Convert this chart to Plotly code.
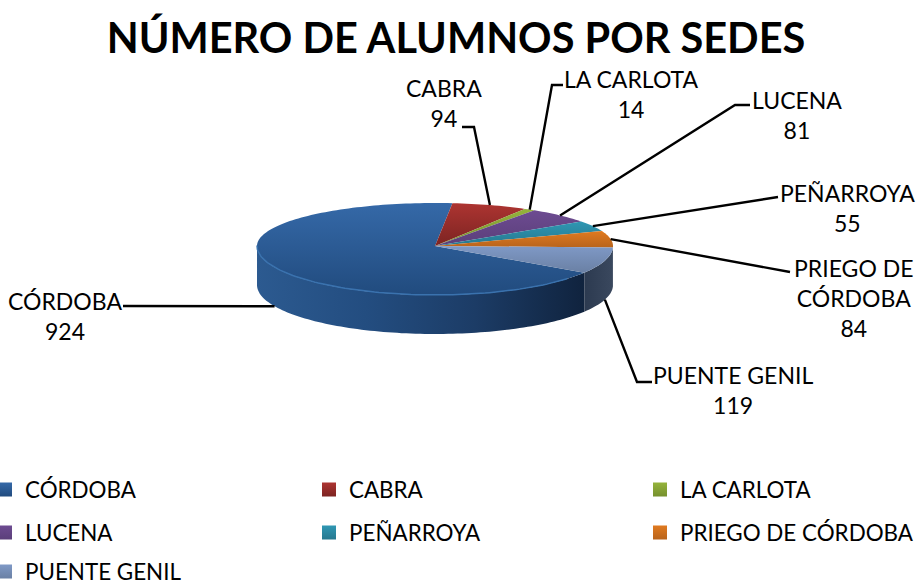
import math
import plotly.graph_objects as go

# ---- data ----
sedes = ["CÓRDOBA", "CABRA", "LA CARLOTA", "LUCENA", "PEÑARROYA", "PRIEGO DE CÓRDOBA", "PUENTE GENIL"]
alumnos = [924, 94, 14, 81, 55, 84, 119]
label_text = ["CÓRDOBA", "CABRA", "LA CARLOTA", "LUCENA", "PEÑARROYA", "PRIEGO DE<br>CÓRDOBA", "PUENTE GENIL"]
titulo = "NÚMERO DE ALUMNOS POR SEDES"

# ---- styles / layout (pixel frame of the page) ----
W, H = 916, 585
CX, CY, RX, RY_TOP, RY_BOT, DEPTH = 435, 246, 178, 43, 49, 39
START = -33.0
FONT = "Lato"
top_grad = [("#3569a8", "#214b7e"), ("#ad3431", "#7c2422"), ("#95b33c", "#76902e"),
            ("#6d4b91", "#5b3f7a"), ("#2f97b3", "#26788f"), ("#e07a20", "#b8641c"),
            ("#7f99c6", "#6a80a4")]
side_grad = {0: ["#2c5a90", "#234d80", "#1c3c66", "#10233e"], 6: ["#2c3a50", "#3a485e"]}
legend_cols = [0, 309, 640]
legend_indent = [-15, 0, 0]
legend_rows = [490, 533, 572]
label_pos = [(65, 316), (444, 103), (631, 94), (797, 115), (847, 208), (853, 298), (733, 390)]
leader_start = [(123, 306), (462, 127), (563, 85), (750, 105), (778, 197), (790, 272), (652, 382)]
leader_elbow = [None, (474, 127), (552, 85), (735, 105), None, None, (637, 382)]


def ell(t):
    s = math.sin(math.radians(t))
    ry = RY_TOP if s > 0 else RY_BOT
    return CX + RX * math.cos(math.radians(t)), CY - ry * s


def arc(a, b):
    n = max(2, int(abs(b - a) / 1.5) + 1)
    return [a + (b - a) * i / (n - 1) for i in range(n)]


total = sum(alumnos)
spans = []
a = START
for v in alumnos:
    b = a - 360.0 * v / total
    spans.append((a, b))
    a = b

fig = go.Figure()

# visible sides: only the part of each slice below the horizontal axis
for i, col in side_grad.items():
    a, b = spans[i]
    ts = [t for t in arc(a, b) if math.sin(math.radians(t)) <= 0.0]
    pts = [ell(t) for t in ts]
    xs = [p[0] for p in pts] + [p[0] for p in reversed(pts)] + [pts[0][0]]
    ys = [p[1] for p in pts] + [p[1] + DEPTH for p in reversed(pts)] + [pts[0][1]]
    n = len(col) - 1
    fig.add_trace(go.Scatter(
        x=xs, y=ys, mode="none", fill="toself", showlegend=False, hoverinfo="skip",
        fillgradient=dict(type="horizontal", colorscale=[[j / n, c] for j, c in enumerate(col)])))

# top face
for i, (a, b) in enumerate(spans):
    pts = [ell(t) for t in arc(a, b)]
    xs = [CX] + [p[0] for p in pts] + [CX]
    ys = [CY] + [p[1] for p in pts] + [CY]
    c1, c2 = top_grad[i]
    fig.add_trace(go.Scatter(
        x=xs, y=ys, mode="none", fill="toself", showlegend=False,
        name=sedes[i], text=str(alumnos[i]), hoverinfo="name+text",
        fillgradient=dict(type="vertical", colorscale=[[0, c2], [1, c1]])))

# bevel along the front rim of the largest slice
a, b = spans[0]
pts = [ell(t) for t in arc(a, b) if math.sin(math.radians(t)) <= 0.02 and math.cos(math.radians(t)) < 0.75]
fig.add_trace(go.Scatter(x=[p[0] for p in pts], y=[p[1] for p in pts], mode="lines",
                         line=dict(color="#3a72ae", width=1.5), showlegend=False, hoverinfo="skip"))

# leader lines, ending on the middle of each slice
annots = []
for i, (a, b) in enumerate(spans):
    ex, ey = ell((a + b) / 2)
    if i in (0, 6):
        ey += DEPTH
    xs, ys = [leader_start[i][0]], [leader_start[i][1]]
    if leader_elbow[i]:
        xs.append(leader_elbow[i][0]); ys.append(leader_elbow[i][1])
    xs.append(ex); ys.append(ey)
    fig.add_trace(go.Scatter(x=xs, y=ys, mode="lines", line=dict(color="black", width=2.4),
                             showlegend=False, hoverinfo="skip"))
    annots.append(dict(x=label_pos[i][0], y=label_pos[i][1], xref="x", yref="y", showarrow=False,
                       xanchor="center", yanchor="middle",
                       text=f"{label_text[i]}<br>{alumnos[i]}", align="center",
                       font=dict(family=FONT, size=23, color="black")))

# legend: one legend per entry, laid out on a 3-column grid
legends = {}
for i, name in enumerate(sedes):
    key = "legend" if i == 0 else f"legend{i + 1}"
    c1, c2 = top_grad[i]
    fig.add_trace(go.Scatter(x=[None], y=[None], mode="markers", name=name, legend=key, showlegend=True,
                             marker=dict(symbol="square", size=14, color=c1,
                                         gradient=dict(type="vertical", color=c2))))
    col, row = legend_cols[i % 3], legend_rows[i // 3]
    legends[key] = dict(x=col / W, y=1 - row / H, xanchor="left", yanchor="middle",
                        bgcolor="rgba(0,0,0,0)", borderwidth=0, itemwidth=30,
                        indentation=legend_indent[i % 3],
                        font=dict(family=FONT, size=22.4, color="black"))

fig.update_layout(
    width=W, height=H, autosize=False,
    margin=dict(l=0, r=0, t=0, b=0, autoexpand=False),
    paper_bgcolor="white", plot_bgcolor="white",
    title=dict(text=f"<b>{titulo}</b>", x=456 / W, xanchor="center", y=1 - 38 / H, yanchor="middle",
               font=dict(family=FONT, size=41.5, color="black")),
    xaxis=dict(range=[0, W], visible=False, fixedrange=True),
    yaxis=dict(range=[H, 0], visible=False, fixedrange=True),
    annotations=annots,
    **legends,
)
fig.write_html("out.html", config={"displayModeBar": False},
               post_script="document.body.style.margin='0';document.body.style.overflow='hidden';")
